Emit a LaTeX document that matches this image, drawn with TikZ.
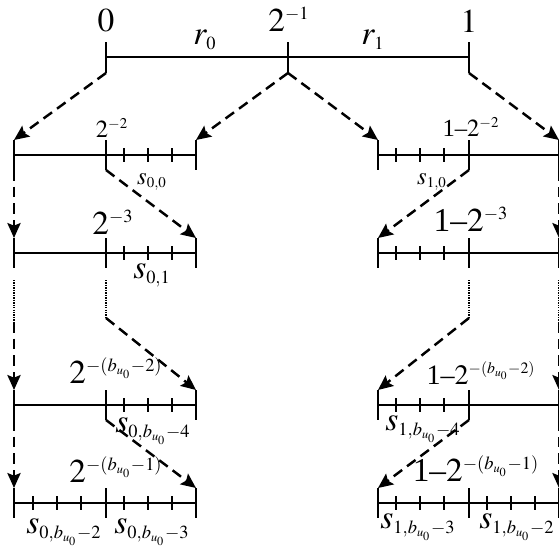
\documentclass[tikz,border=0pt]{standalone}
\usepackage{mathptmx}
\usepackage{fontspec}
\setmainfont{Liberation Serif}
\usetikzlibrary{arrows.meta}
\DeclareMathSizes{19}{19}{10.5}{7}
\DeclareMathSizes{16}{16}{9}{6.5}
\DeclareMathSizes{14}{14}{8.5}{6}

\begin{document}
\begin{tikzpicture}[x=0.02cm, y=-0.02cm,
    thinline/.style={line width=0.6pt},
    thickline/.style={line width=1.6pt},
    bigtick/.style={line width=1pt},
    smalltick/.style={line width=0.9pt},
    jump/.style={-{Stealth[length=8.5pt,width=7.5pt,inset=1.5pt]}, line width=1.4pt,
      dash pattern=on 6pt off 3.5pt},
    gap/.style={line width=1.3pt, dash pattern=on 0.8pt off 0.6pt},
    biglabel/.style={font=\fontsize{19}{22}\selectfont, inner sep=0pt},
    midlabel/.style={font=\fontsize{16}{18}\selectfont, inner sep=0pt},
    smalllabel/.style={font=\fontsize{14}{16}\selectfont, inner sep=0pt},
  ]
  \useasboundingbox (0,0) rectangle (559,548);

  % top interval [0,1]
  \foreach \n/\x in {t0/106,th/288,t1/469}{
    \coordinate (\n-top) at (\x,42);
    \coordinate (\n-bot) at (\x,73);
    \draw[bigtick] (\n-top) -- (\n-bot);
  }
  \draw[thinline] (106,57) -- (469,57);
  \node[biglabel] (zero) at (106,21) {$0$};
  \node[biglabel] (half) at (289,19) {$2^{-1}$};
  \node[biglabel] (one) at (469,21) {$1$};
  \node[biglabel] (r0) at (205,40) {$r_0$};
  \node[biglabel] (r1) at (373,40) {$r_1$};

  % the four rows of sub-intervals
  \foreach \r/\y in {1/155,2/253,3/405,4/503}{
    \foreach \n/\x in {a/14,b/106,c/196,d/378,e/469,f/559}{
      \coordinate (\n\r-top) at (\x,\y-15);
      \coordinate (\n\r-bot) at (\x,\y+15);
      \draw[bigtick] (\n\r-top) -- (\n\r-bot);
    }
    \foreach \x in {124,148,172,396,420,444}
      \draw[smalltick] (\x,\y-7) -- (\x,\y+7);
  }
  \foreach \r/\y in {1/155,2/253,3/405}{
    \draw[thinline] (14,\y) -- (106,\y);
    \draw[thickline] (106,\y) -- (196,\y);
    \draw[thickline] (378,\y) -- (469,\y);
    \draw[thinline] (469,\y) -- (559,\y);
  }
  \draw[thickline] (14,503) -- (196,503);
  \draw[thickline] (378,503) -- (559,503);
  \foreach \x in {33,57,81,487,511,535}
    \draw[smalltick] (\x,496) -- (\x,510);

  % labels
  \node[smalllabel] (lab12) at (112,128) {$2^{-2}$};
  \node[smalllabel] (lab12r) at (471,127) {1\textendash$2^{-2}$};
  \node[smalllabel] (s00) at (152,182) {$s_{0,0}$};
  \node[smalllabel] (s10) at (432,182) {$s_{1,0}$};
  \node[biglabel] (lab23) at (113,222) {$2^{-3}$};
  \node[biglabel] (lab23r) at (471,219) {1\textendash$2^{-3}$};
  \node[biglabel] (s01) at (152,275) {$s_{0,1}$};
  \node[biglabel] (lab3) at (116,371) {$2^{-(b_{u_0}-2)}$};
  \node[midlabel] (lab3r) at (481,373) {1\textendash$2^{-(b_{u_0}-2)}$};
  \node[biglabel] (s04) at (153,431) {$s_{0,b_{u_0}-4}$};
  \node[biglabel] (s14) at (423,429) {$s_{1,b_{u_0}-4}$};
  \node[biglabel] (lab4) at (116,470) {$2^{-(b_{u_0}-1)}$};
  \node[biglabel] (lab4r) at (476,469) {1\textendash$2^{-(b_{u_0}-1)}$};
  \node[biglabel] (s02) at (64,532) {$s_{0,b_{u_0}-2}$};
  \node[biglabel] (s03) at (152,532) {$s_{0,b_{u_0}-3}$};
  \node[biglabel] (s13) at (418,527) {$s_{1,b_{u_0}-3}$};
  \node[biglabel] (s12) at (517,527) {$s_{1,b_{u_0}-2}$};

  % mapping arrows
  \draw[jump] (t0-bot) -- (a1-top);
  \draw[jump] (th-bot) -- (c1-top);
  \draw[jump] (th-bot) -- (d1-top);
  \draw[jump] (t1-bot) -- (f1-top);
  \draw[jump] (a1-bot) -- (a2-top);
  \draw[jump] (b1-bot) -- (c2-top);
  \draw[jump] (e1-bot) -- (d2-top);
  \draw[jump] (f1-bot) -- (f2-top);
  % skipped steps
  \coordinate (ga) at (14,280);  \coordinate (ma) at (14,322);
  \coordinate (gb) at (106,280); \coordinate (mb) at (106,318);
  \coordinate (ge) at (469,280); \coordinate (me) at (469,318);
  \coordinate (gf) at (559,280); \coordinate (mf) at (559,322);
  \draw[gap] (ga) -- (ma);
  \draw[gap] (gb) -- (mb);
  \draw[gap] (ge) -- (me);
  \draw[gap] (gf) -- (mf);
  \draw[jump] (ma) -- (a3-top);
  \draw[jump] (mb) -- (c3-top);
  \draw[jump] (me) -- (d3-top);
  \draw[jump] (mf) -- (f3-top);
  \draw[jump] (a3-bot) -- (a4-top);
  \draw[jump] (b3-bot) -- (c4-top);
  \draw[jump] (e3-bot) -- (d4-top);
  \draw[jump] (f3-bot) -- (f4-top);
\end{tikzpicture}
\end{document}
